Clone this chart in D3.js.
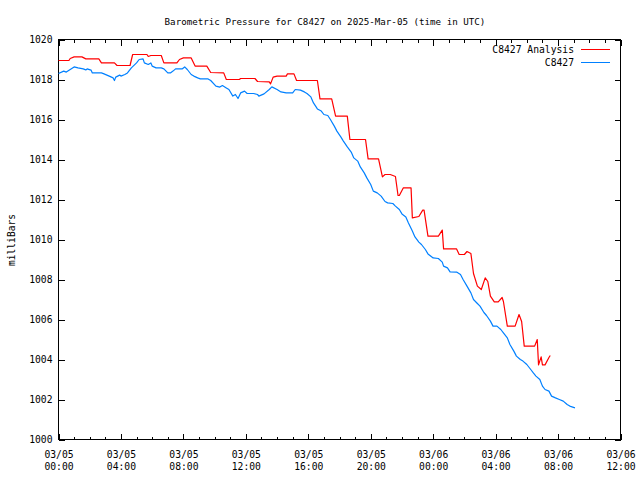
<!DOCTYPE html>
<html>
<head>
<meta charset="utf-8">
<script src="https://cdn.jsdelivr.net/npm/d3@7"></script>
<style>
  html, body { margin: 0; padding: 0; background: #fff; }
  svg { display: block; }
  text { font-family: "DejaVu Sans Mono", monospace; fill: #000; }
</style>
</head>
<body>
<svg id="chart" width="640" height="480"></svg>
<script>
// ---- Data (elapsed time since 2025-03-05 00:00 UTC, "H:MM") ----
const analysisTimes = ["0:00","0:40","0:45","1:00","1:30","1:45","2:35","2:45","3:35","3:45","4:35","4:45","5:40","5:45","5:55","6:35","6:45","7:35","7:45","8:00","8:30","8:45","9:30","9:45","10:35","10:45","11:35","11:40","12:35","12:45","13:30","13:35","13:45","14:00","14:35","14:40","15:05","15:15","16:35","16:45","17:30","17:45","18:30","18:40","19:40","19:50","20:30","20:45","20:55","21:15","21:35","21:45","21:50","22:05","22:35","22:40","23:05","23:20","23:25","23:40","24:20","24:35","24:40","25:30","25:40","26:00","26:10","26:25","26:35","26:50","27:05","27:20","27:30","27:40","27:55","28:10","28:25","28:30","28:45","29:15","29:30","29:40","29:50","30:30","30:40","30:45","30:55","31:00","31:10","31:25","31:30"];
const analysisValues = [1018.95,1018.95,1019.05,1019.13,1019.13,1019.03,1019.03,1018.83,1018.83,1018.7,1018.7,1019.25,1019.25,1019.15,1019.2,1019.2,1018.83,1018.83,1019.0,1019.08,1019.08,1018.67,1018.67,1018.35,1018.33,1018.0,1018.0,1018.05,1018.05,1017.9,1017.88,1017.78,1018.12,1018.17,1018.17,1018.28,1018.28,1017.95,1017.95,1017.03,1017.03,1016.17,1016.17,1015.0,1015.0,1014.03,1014.03,1013.13,1013.25,1013.25,1013.15,1012.2,1012.2,1012.58,1012.58,1011.08,1011.15,1011.47,1011.47,1010.17,1010.17,1010.47,1009.53,1009.53,1009.25,1009.25,1009.4,1009.3,1008.3,1007.67,1007.5,1008.08,1007.9,1007.17,1006.88,1006.88,1007.1,1006.9,1005.67,1005.67,1006.25,1005.9,1004.67,1004.67,1005.0,1003.73,1004.13,1003.73,1003.73,1004.1,1004.2];

const stationTimes = ["0:00","0:20","0:30","1:00","1:15","1:35","1:45","1:50","2:05","2:10","2:45","2:55","3:15","3:30","3:35","3:40","3:55","4:00","4:15","4:25","4:40","5:00","5:10","5:25","5:30","5:45","5:55","6:00","6:15","6:35","6:45","7:00","7:10","7:20","7:30","7:55","8:05","8:15","8:30","8:40","8:55","9:05","9:35","9:45","10:05","10:20","10:30","10:45","10:55","11:10","11:20","11:30","11:40","11:55","12:05","12:30","12:45","12:50","13:10","13:30","13:40","14:00","14:15","14:35","15:00","15:10","15:30","15:45","15:55","16:10","16:20","16:35","16:50","17:00","17:15","17:25","17:40","17:50","18:05","18:15","18:30","18:45","18:55","19:10","19:20","19:35","19:45","20:00","20:10","20:25","20:40","20:55","21:05","21:25","21:35","21:50","22:00","22:15","22:25","22:40","22:50","23:05","23:15","23:30","23:40","24:00","24:20","24:35","24:40","24:55","25:05","25:30","25:45","25:55","26:10","26:25","26:35","26:50","27:00","27:15","27:25","27:40","27:50","28:05","28:20","28:30","28:45","28:55","29:10","29:20","29:35","29:45","30:00","30:15","30:25","30:35","30:50","31:00","31:10","31:25","31:35","31:50","32:05","32:20","32:35","32:45","33:05"];
const stationValues = [1018.3,1018.42,1018.37,1018.63,1018.58,1018.53,1018.48,1018.53,1018.47,1018.33,1018.33,1018.28,1018.17,1018.08,1017.95,1018.12,1018.22,1018.17,1018.25,1018.33,1018.58,1018.83,1019.0,1019.03,1018.83,1018.75,1018.83,1018.67,1018.58,1018.58,1018.53,1018.33,1018.33,1018.42,1018.53,1018.53,1018.63,1018.5,1018.25,1018.17,1018.08,1018.03,1018.03,1017.95,1017.67,1017.62,1017.7,1017.58,1017.5,1017.17,1017.25,1017.05,1017.33,1017.42,1017.3,1017.3,1017.25,1017.17,1017.28,1017.5,1017.63,1017.5,1017.38,1017.33,1017.33,1017.5,1017.47,1017.38,1017.3,1017.13,1016.83,1016.53,1016.42,1016.25,1016.2,1016.0,1015.67,1015.42,1015.13,1014.92,1014.63,1014.37,1014.08,1013.92,1013.63,1013.33,1013.08,1012.75,1012.42,1012.33,1012.17,1011.9,1011.83,1011.8,1011.67,1011.5,1011.28,1011.13,1010.83,1010.42,1010.13,1009.87,1009.75,1009.5,1009.28,1009.08,1009.05,1008.87,1008.67,1008.58,1008.38,1008.37,1008.25,1008.0,1007.67,1007.33,1007.0,1006.8,1006.67,1006.35,1006.2,1005.92,1005.67,1005.67,1005.5,1005.33,1005.08,1004.75,1004.42,1004.17,1004.0,1003.92,1003.75,1003.5,1003.33,1003.17,1003.0,1002.67,1002.5,1002.42,1002.17,1002.08,1002.0,1001.92,1001.75,1001.67,1001.58];

const seriesNames = ["C8427 Analysis", "C8427"];
const seriesColors = ["#ff0000", "#0080ff"];
const yTickValues = [1000,1002,1004,1006,1008,1010,1012,1014,1016,1018,1020];
const titleText = "Barometric Pressure for C8427 on 2025-Mar-05 (time in UTC)";
const yLabelText = "milliBars";

// ---- Helpers ----
const t0 = new Date(Date.UTC(2025, 2, 5, 0, 0));
const tEnd = new Date(Date.UTC(2025, 2, 6, 12, 0));
function toDate(s) {
  const [h, m] = s.split(":").map(Number);
  return d3.utcMinute.offset(t0, h * 60 + m);
}
const analysis = analysisTimes.map((t, i) => ({ t: toDate(t), v: analysisValues[i] }));
const station = stationTimes.map((t, i) => ({ t: toDate(t), v: stationValues[i] }));

// ---- Layout ----
const L = 58.5, R = 620.5, T = 39.5, B = 439.5;
const svg = d3.select("#chart");
const x = d3.scaleUtc().domain([t0, tEnd]).range([L, R]);
const y = d3.scaleLinear().domain([1000, 1020]).range([B, T]);

// Title
svg.append("text").attr("x", 325).attr("y", 24.5).attr("text-anchor", "middle")
  .style("font-size", "9.2px").text(titleText);

// Y label
svg.append("text").attr("transform", "translate(15,240) rotate(-90)")
  .attr("text-anchor", "middle").style("font-size", "9.6px").text(yLabelText);

function styleAxis(g) {
  g.select(".domain").remove();
  g.selectAll("line").attr("stroke", "#000").attr("shape-rendering", "crispEdges");
}

// Minor x ticks (bottom & top)
svg.append("g").attr("transform", `translate(0,${B})`)
  .call(d3.axisBottom(x).ticks(d3.utcHour.every(1)).tickSize(-3).tickFormat(""))
  .call(styleAxis);
svg.append("g").attr("transform", `translate(0,${T})`)
  .call(d3.axisTop(x).ticks(d3.utcHour.every(1)).tickSize(-3).tickFormat(""))
  .call(styleAxis);

// Major x ticks (bottom with labels, top mirror)
const fmtDate = d3.utcFormat("%m/%d");
const fmtTime = d3.utcFormat("%H:%M");
const xb = svg.append("g").attr("transform", `translate(0,${B})`)
  .call(d3.axisBottom(x).ticks(d3.utcHour.every(4)).tickSize(-6).tickFormat(""))
  .call(styleAxis);
xb.selectAll(".tick text").remove();
xb.selectAll(".tick").append("text")
  .attr("text-anchor", "middle")
  .style("font-size", "9.7px")
  .each(function(d) {
    const t = d3.select(this);
    t.append("tspan").attr("x", 0).attr("y", 18.5).text(fmtDate(d));
    t.append("tspan").attr("x", 0).attr("y", 30.5).text(fmtTime(d));
  });
svg.append("g").attr("transform", `translate(0,${T})`)
  .call(d3.axisTop(x).ticks(d3.utcHour.every(4)).tickSize(-6).tickFormat(""))
  .call(styleAxis);

// Y axes
const yl = svg.append("g").attr("transform", `translate(${L},0)`)
  .call(d3.axisLeft(y).tickValues(yTickValues).tickSize(-6).tickPadding(6).tickFormat(d3.format("d")))
  .call(styleAxis);
yl.selectAll("text").style("font-size", "9.7px").attr("fill", "#000");
svg.append("g").attr("transform", `translate(${R},0)`)
  .call(d3.axisRight(y).tickValues(yTickValues).tickSize(-6).tickFormat(""))
  .call(styleAxis);

// Frame
svg.append("rect").attr("x", L).attr("y", T).attr("width", R - L).attr("height", B - T)
  .attr("fill", "none").attr("stroke", "#000").attr("shape-rendering", "crispEdges");

// Lines
const line = d3.line().x(d => x(d.t)).y(d => y(d.v));
[analysis, station].forEach((data, i) => {
  svg.append("path").datum(data)
    .attr("d", line)
    .attr("fill", "none")
    .attr("stroke", seriesColors[i])
    .attr("stroke-width", 1.2)
    .attr("stroke-linejoin", "round");
});

// Legend
const legendY = [49.5, 62.5];
seriesNames.forEach((name, i) => {
  svg.append("text").attr("x", 574).attr("y", legendY[i] + 3.5)
    .attr("text-anchor", "end").style("font-size", "9.7px").text(name);
  svg.append("line").attr("x1", 581).attr("x2", 610)
    .attr("y1", legendY[i]).attr("y2", legendY[i])
    .attr("stroke", seriesColors[i]).attr("stroke-width", 1)
    .attr("shape-rendering", "crispEdges");
});
</script>
</body>
</html>
